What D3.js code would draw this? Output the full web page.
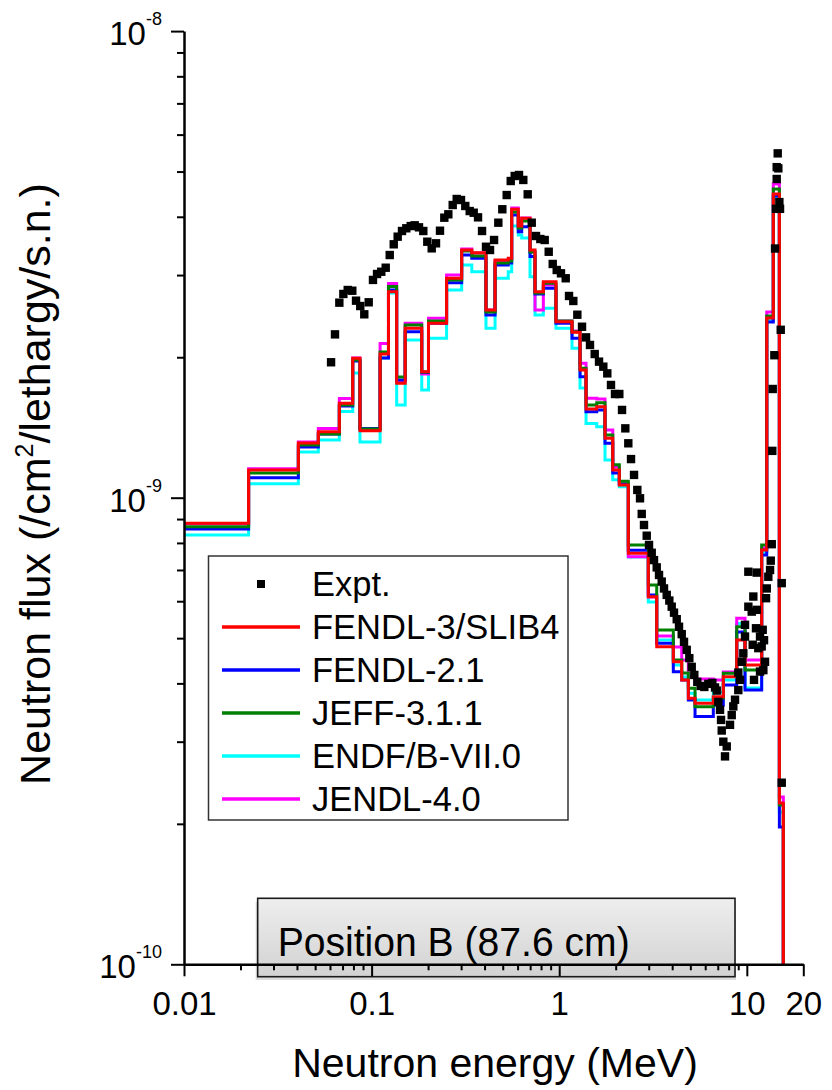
<!DOCTYPE html>
<html><head><meta charset="utf-8">
<script src="https://cdn.jsdelivr.net/npm/d3@7"></script>
<style>
body{margin:0;background:#fff}
svg{display:block}
text{font-family:"Liberation Sans", Arial, sans-serif;fill:#000}
</style>
</head><body>
<svg id="chart" width="832" height="1090"></svg>
<script>
// ---------------- data ----------------
const binEdges = [0.01, 0.0221, 0.0407, 0.052, 0.0673, 0.0793, 0.0867, 0.111, 0.123, 0.136, 0.151, 0.185, 0.201, 0.251, 0.302, 0.342, 0.407, 0.455, 0.535, 0.558, 0.605, 0.631, 0.699, 0.743, 0.823, 0.961, 1.17, 1.291, 1.39, 1.585, 1.754, 1.929, 2.091, 2.335, 2.985, 3.309, 4.057, 4.498, 4.878, 5.296, 6.628, 7.493, 8.834, 9.781, 12.0, 12.77, 13.84, 14.91, 15.65];

const fendl3 = [8.81e-10, 11.47e-10, 13.10e-10, 13.85e-10, 15.94e-10, 19.89e-10, 13.92e-10, 20.32e-10, 27.64e-10, 17.59e-10, 23.07e-10, 18.62e-10, 23.65e-10, 29.53e-10, 33.96e-10, 33.51e-10, 25.25e-10, 32.31e-10, 32.59e-10, 41.50e-10, 38.22e-10, 39.70e-10, 33.96e-10, 27.64e-10, 29.04e-10, 23.84e-10, 22.63e-10, 18.78e-10, 15.49e-10, 15.67e-10, 13.41e-10, 11.47e-10, 10.65e-10, 7.60e-10, 6.135e-10, 4.795e-10, 4.452e-10, 4.068e-10, 3.716e-10, 3.626e-10, 3.745e-10, 4.135e-10, 4.955e-10, 4.38e-10, 7.725e-10, 24.28e-10, 44.77e-10, 2.216e-10];

const fendl21 = [8.57e-10, 11.03e-10, 12.84e-10, 13.69e-10, 15.73e-10, 19.63e-10, 14.07e-10, 19.92e-10, 27.87e-10, 17.88e-10, 22.69e-10, 18.55e-10, 23.65e-10, 28.90e-10, 33.13e-10, 32.60e-10, 24.63e-10, 31.52e-10, 31.85e-10, 40.35e-10, 37.16e-10, 38.09e-10, 32.86e-10, 27.33e-10, 28.11e-10, 23.65e-10, 21.96e-10, 18.17e-10, 15.28e-10, 15.42e-10, 13.08e-10, 11.30e-10, 10.70e-10, 7.72e-10, 6.187e-10, 4.876e-10, 4.237e-10, 4.068e-10, 3.685e-10, 3.395e-10, 3.594e-10, 3.969e-10, 5.155e-10, 3.872e-10, 7.536e-10, 23.81e-10, 44.33e-10, 1.969e-10];

const jeff311 = [8.66e-10, 11.30e-10, 12.97e-10, 13.69e-10, 15.81e-10, 19.72e-10, 14.04e-10, 20.52e-10, 28.36e-10, 18.15e-10, 23.45e-10, 18.59e-10, 23.92e-10, 29.28e-10, 33.79e-10, 32.97e-10, 25.00e-10, 31.83e-10, 32.16e-10, 40.96e-10, 37.85e-10, 39.17e-10, 33.63e-10, 27.46e-10, 28.81e-10, 23.92e-10, 22.69e-10, 18.94e-10, 15.80e-10, 15.98e-10, 13.63e-10, 11.76e-10, 10.85e-10, 7.92e-10, 6.50e-10, 5.207e-10, 4.49e-10, 4.21e-10, 3.904e-10, 3.566e-10, 3.72e-10, 4.205e-10, 5.29e-10, 4.273e-10, 7.92e-10, 24.52e-10, 45.89e-10, 2.194e-10];

const endfb7 = [8.32e-10, 10.71e-10, 12.53e-10, 13.29e-10, 15.31e-10, 18.50e-10, 13.17e-10, 19.92e-10, 27.46e-10, 15.80e-10, 21.78e-10, 17.01e-10, 21.96e-10, 27.87e-10, 31.54e-10, 30.51e-10, 23.07e-10, 29.53e-10, 30.51e-10, 38.22e-10, 36.56e-10, 36.03e-10, 29.77e-10, 24.64e-10, 25.47e-10, 23.07e-10, 20.90e-10, 17.18e-10, 14.43e-10, 14.20e-10, 12.05e-10, 10.92e-10, 10.55e-10, 7.46e-10, 5.978e-10, 4.955e-10, 4.378e-10, 4.13e-10, 3.81e-10, 3.685e-10, 3.83e-10, 4.068e-10, 5.376e-10, 3.91e-10, 7.65e-10, 24.04e-10, 43.89e-10, 2.119e-10];

const jendl4 = [8.79e-10, 11.53e-10, 13.16e-10, 14.07e-10, 16.32e-10, 19.92e-10, 14.04e-10, 21.40e-10, 28.77e-10, 17.79e-10, 23.65e-10, 18.41e-10, 24.24e-10, 30.01e-10, 34.13e-10, 33.46e-10, 25.25e-10, 32.15e-10, 32.48e-10, 41.77e-10, 38.22e-10, 39.76e-10, 33.63e-10, 25.26e-10, 28.57e-10, 23.92e-10, 22.76e-10, 19.41e-10, 16.33e-10, 16.28e-10, 13.97e-10, 11.64e-10, 10.70e-10, 7.47e-10, 6.125e-10, 5.054e-10, 4.787e-10, 4.49e-10, 4.137e-10, 4.086e-10, 4.067e-10, 4.232e-10, 5.516e-10, 4.49e-10, 7.80e-10, 25.01e-10, 47.04e-10, 2.283e-10];

const exptEnergy = [0.0608, 0.0638, 0.0673, 0.0707, 0.0746, 0.0789, 0.0826, 0.0870, 0.0914, 0.0965, 0.1017, 0.1069, 0.1126, 0.1189, 0.1249, 0.1312, 0.1377, 0.1452, 0.1531, 0.1616, 0.1697, 0.1789, 0.1886, 0.1981, 0.2091, 0.2204, 0.2315, 0.2441, 0.2564, 0.2706, 0.2842, 0.2996, 0.3158, 0.3333, 0.3501, 0.3692, 0.3878, 0.4072, 0.4278, 0.4494, 0.4736, 0.4974, 0.5249, 0.5515, 0.5792, 0.6105, 0.6435, 0.6793, 0.7137, 0.7522, 0.7933, 0.8368, 0.879, 0.9234, 0.9698, 1.022, 1.083, 1.128, 1.189, 1.249, 1.323, 1.390, 1.459, 1.546, 1.630, 1.718, 1.804, 1.888, 1.983, 2.091, 2.162, 2.251, 2.335, 2.414, 2.505, 2.608, 2.696, 2.753, 2.831, 2.927, 3.011, 3.112, 3.201, 3.309, 3.404, 3.518, 3.619, 3.741, 3.863, 3.978, 4.092, 4.230, 4.351, 4.498, 4.626, 4.782, 4.937, 5.085, 5.249, 5.446, 5.679, 5.936, 6.235, 6.548, 6.769, 6.912, 7.049, 7.197, 7.287, 7.349, 7.494, 7.652, 7.814, 8.136, 8.308, 8.472, 8.651, 9.008, 9.199, 9.008, 9.393, 9.579, 9.781, 9.781, 10.19, 10.62, 10.83, 11.29, 11.19, 11.76, 12.0, 12.50, 12.25, 11.76, 11.51, 10.75, 10.19, 11.29, 10.92, 12.15, 12.35, 12.66, 12.77, 13.02, 13.30, 13.41, 13.58, 15.35, 14.61, 14.43, 14.72, 14.43, 14.91, 14.31, 15.03, 14.14, 15.16, 14.02, 13.74, 13.67, 15.35];

const exptFlux = [19.51e-10, 22.39e-10, 26.18e-10, 27.33e-10, 27.87e-10, 27.77e-10, 26.44e-10, 25.75e-10, 24.72e-10, 26.23e-10, 29.29e-10, 30.16e-10, 30.50e-10, 31.11e-10, 33.12e-10, 34.92e-10, 36.26e-10, 37.29e-10, 37.79e-10, 38.21e-10, 38.35e-10, 37.97e-10, 37.29e-10, 35.37e-10, 34.23e-10, 35.09e-10, 37.34e-10, 39.82e-10, 40.49e-10, 42.39e-10, 43.67e-10, 43.45e-10, 42.19e-10, 41.15e-10, 40.81e-10, 39.89e-10, 37.29e-10, 34.50e-10, 33.95e-10, 35.67e-10, 38.85e-10, 41.51e-10, 44.53e-10, 47.72e-10, 48.92e-10, 49.16e-10, 47.97e-10, 44.69e-10, 38.85e-10, 36.38e-10, 35.84e-10, 35.67e-10, 33.66e-10, 31.69e-10, 30.76e-10, 30.26e-10, 29.53e-10, 27.06e-10, 26.40e-10, 24.67e-10, 23.25e-10, 22.06e-10, 21.25e-10, 20.32e-10, 19.57e-10, 19.09e-10, 18.47e-10, 17.44e-10, 16.68e-10, 16.68e-10, 15.42e-10, 14.08e-10, 13.08e-10, 12.10e-10, 11.19e-10, 10.39e-10, 9.97e-10, 9.23e-10, 8.74e-10, 8.29e-10, 7.92e-10, 7.62e-10, 7.35e-10, 7.09e-10, 6.83e-10, 6.61e-10, 6.39e-10, 6.19e-10, 6.02e-10, 5.84e-10, 5.67e-10, 5.49e-10, 5.29e-10, 5.10e-10, 4.91e-10, 4.72e-10, 4.53e-10, 4.34e-10, 4.17e-10, 4.03e-10, 3.95e-10, 3.93e-10, 3.99e-10, 4.01e-10, 3.92e-10, 3.86e-10, 3.65e-10, 3.51e-10, 3.34e-10, 3.17e-10, 3.00e-10, 2.79e-10, 2.93e-10, 3.26e-10, 3.42e-10, 3.57e-10, 3.69e-10, 3.87e-10, 4.07e-10, 4.22e-10, 4.45e-10, 4.64e-10, 5.04e-10, 5.34e-10, 5.84e-10, 5.70e-10, 6.14e-10, 5.75e-10, 5.25e-10, 5.04e-10, 4.80e-10, 4.45e-10, 4.27e-10, 4.24e-10, 4.76e-10, 4.84e-10, 6.94e-10, 6.91e-10, 4.07e-10, 5.21e-10, 4.95e-10, 6.09e-10, 6.39e-10, 6.77e-10, 7.00e-10, 7.33e-10, 7.95e-10, 6.56e-10, 54.7e-10, 51.1e-10, 50.8e-10, 48.2e-10, 43.0e-10, 41.6e-10, 41.6e-10, 34.2e-10, 22.9e-10, 20.2e-10, 17.1e-10, 12.6e-10, 2.45e-10];

const seriesNames  = ["FENDL-3/SLIB4", "FENDL-2.1", "JEFF-3.1.1", "ENDF/B-VII.0", "JENDL-4.0"];
const seriesValues = [fendl3, fendl21, jeff311, endfb7, jendl4];
const seriesColors = ["#ff0000", "#0000ff", "#008000", "#00ffff", "#ff00ff"];
const drawOrder = [3, 4, 1, 2, 0];

const xTickValues = [0.01, 0.1, 1, 10, 20];
const xTickLabels = ["0.01", "0.1", "1", "10", "20"];
const xMinorTicks = [0.02,0.03,0.04,0.05,0.06,0.07,0.08,0.09,0.2,0.3,0.4,0.5,0.6,0.7,0.8,0.9,2,3,4,5,6,7,8,9];
const yTickValues = [1e-10, 1e-9, 1e-8];
const yTickExponents = ["-10", "-9", "-8"];
const yMinorTicks = [2e-10,3e-10,4e-10,5e-10,6e-10,7e-10,8e-10,9e-10,2e-9,3e-9,4e-9,5e-9,6e-9,7e-9,8e-9,9e-9];

const xTitle = "Neutron energy (MeV)";
const yTitleParts = ["Neutron flux (/cm", "2", "/lethargy/s.n.)"];
const boxLabel = "Position B (87.6 cm)";
const exptName = "Expt.";

// ---------------- chart ----------------
const svg = d3.select("#chart");
const x = d3.scaleLog().domain([0.01, 20]).range([184, 803.3]);
const y = d3.scaleLog().domain([1e-10, 1e-8]).range([964.3, 31.1]);

const defs = svg.append("defs");
const grad = defs.append("linearGradient").attr("id", "boxgrad").attr("x1", 0).attr("y1", 0).attr("x2", 0).attr("y2", 1);
grad.append("stop").attr("offset", "0%").attr("stop-color", "#eeeeee");
grad.append("stop").attr("offset", "100%").attr("stop-color", "#d2d2d2");

// position label box (behind axes)
const bx0 = x(0.0247), bx1 = x(8.65);
svg.append("rect").attr("x", bx0 - 2).attr("y", 902).attr("width", bx1 - bx0 + 3).attr("height", 78).attr("fill", "#dcdcdc");
svg.append("rect").attr("x", bx0).attr("y", 898.3).attr("width", bx1 - bx0).attr("height", 78.4)
  .attr("fill", "url(#boxgrad)").attr("stroke", "#1a1a1a").attr("stroke-width", 1.6);
svg.append("text").attr("x", bx0 + 20).attr("y", 956).attr("font-size", 40)
  .attr("textLength", 352).attr("lengthAdjust", "spacingAndGlyphs").text(boxLabel);

// step series
const line = d3.line().x(d => x(d[0])).y(d => y(d[1]));
function stepPoints(vals) {
  const pts = [];
  vals.forEach((v, i) => { pts.push([binEdges[i], v]); pts.push([binEdges[i + 1], v]); });
  pts.push([binEdges[vals.length], y.domain()[0]]);
  return pts;
}
drawOrder.forEach(k => {
  svg.append("path").attr("d", line(stepPoints(seriesValues[k])))
    .attr("fill", "none").attr("stroke", seriesColors[k]).attr("stroke-width", 3)
    .attr("stroke-linejoin", "miter").attr("stroke-linecap", "butt");
});

// experimental points
svg.append("g").selectAll("rect").data(exptEnergy).join("rect")
  .attr("x", (d, i) => x(d) - 4.2).attr("y", (d, i) => y(exptFlux[i]) - 4.2)
  .attr("width", 8.4).attr("height", 8.4).attr("fill", "#000");

// axes
function styleAxis(g) {
  g.selectAll(".tick line").attr("stroke", "#000").attr("stroke-width", 2);
  g.select(".domain").attr("stroke", "#000").attr("stroke-width", 2.5);
}
const gxMinor = svg.append("g").attr("transform", "translate(0,964.3)")
  .call(d3.axisBottom(x).tickValues(xMinorTicks).tickSize(6).tickFormat(""));
gxMinor.select(".domain").remove(); styleAxis(gxMinor);
const gx = svg.append("g").attr("transform", "translate(0,964.3)")
  .call(d3.axisBottom(x).tickValues(xTickValues).tickSize(12).tickSizeOuter(0).tickFormat((d, i) => xTickLabels[i]));
styleAxis(gx);
gx.selectAll(".tick text").attr("y", 50.7).attr("dy", 0).attr("font-size", 33)
  .attr("font-family", "'Liberation Sans', Arial, sans-serif").attr("fill", "#000");

const gyMinor = svg.append("g").attr("transform", "translate(184,0)")
  .call(d3.axisLeft(y).tickValues(yMinorTicks).tickSize(7).tickFormat(""));
gyMinor.select(".domain").remove(); styleAxis(gyMinor);
const gy = svg.append("g").attr("transform", "translate(184,0)")
  .call(d3.axisLeft(y).tickValues(yTickValues).tickSize(13).tickSizeOuter(0).tickFormat(""));
styleAxis(gy);

svg.append("g").selectAll("text").data(yTickValues).join("text")
  .attr("x", 162).attr("y", d => y(d) + 14).attr("text-anchor", "end").attr("font-size", 33)
  .each(function (d, i) {
    const t = d3.select(this);
    t.append("tspan").text("10");
    t.append("tspan").attr("dy", -20).attr("font-size", 18).text(yTickExponents[i]);
  });

// axis titles
svg.append("text").attr("x", 495).attr("y", 1077).attr("text-anchor", "middle").attr("font-size", 41).text(xTitle);
const yt = svg.append("text").attr("transform", "translate(50,484) rotate(-90)").attr("text-anchor", "middle").attr("font-size", 43);
yt.append("tspan").text(yTitleParts[0]);
yt.append("tspan").attr("dy", -17).attr("font-size", 25).text(yTitleParts[1]);
yt.append("tspan").attr("dy", 17).text(yTitleParts[2]);

// legend
const lg = svg.append("g");
lg.append("rect").attr("x", 208.5).attr("y", 556).attr("width", 359.5).attr("height", 264)
  .attr("fill", "#fff").attr("stroke", "#333").attr("stroke-width", 1.5);
const rowY = [584, 627, 670, 713, 756, 799];
lg.append("rect").attr("x", 257).attr("y", rowY[0] - 4).attr("width", 8).attr("height", 8).attr("fill", "#000");
lg.append("text").attr("x", 312).attr("y", rowY[0] + 12).attr("font-size", 34.5).text(exptName);
seriesNames.forEach((name, i) => {
  const yy = rowY[i + 1];
  lg.append("line").attr("x1", 222).attr("x2", 300).attr("y1", yy).attr("y2", yy)
    .attr("stroke", seriesColors[i]).attr("stroke-width", 3.5);
  lg.append("text").attr("x", 312).attr("y", yy + 12).attr("font-size", 34.5).text(name);
});
</script>
</body></html>
